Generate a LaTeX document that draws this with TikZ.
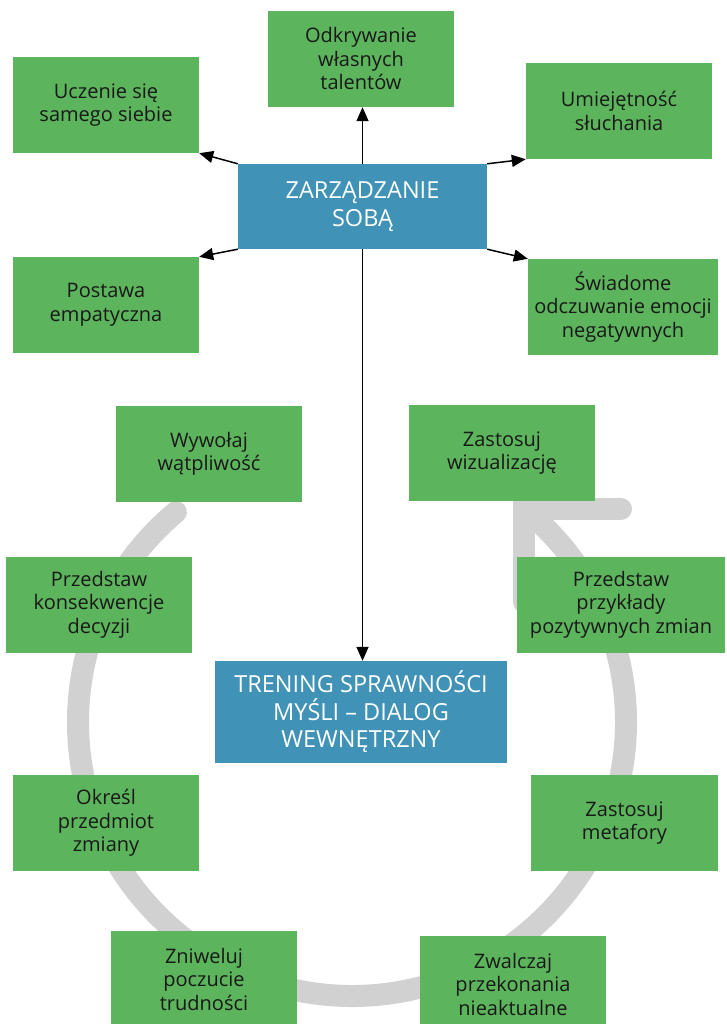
\documentclass[tikz,border=0pt]{standalone}
\usepackage{fontspec}
\setmainfont{Open Sans}
\usetikzlibrary{arrows.meta}
\definecolor{boxgreen}{RGB}{92,180,92}
\definecolor{boxblue}{RGB}{64,146,182}
\definecolor{ringgray}{RGB}{209,209,209}
\begin{document}
\begin{tikzpicture}[x=1pt,y=-1pt,
  gbox/.style={fill=boxgreen, inner sep=0pt, minimum width=186pt, minimum height=96pt,
    align=center, text=black!90, font=\fontsize{20}{23.5}\selectfont},
  bbox/.style={fill=boxblue, inner sep=0pt, align=center, text=white,
    font=\fontsize{23.5}{27.5}\selectfont},
  arr/.style={draw=black, line width=1.5pt, -{Triangle[length=14pt,width=12pt]}},
  ring/.style={draw=ringgray, line width=22pt}
]
\useasboundingbox (0,0) rectangle (726,1024);

% cycle ring with arrowhead
\draw[ring, line cap=round] (352,722) ++(-130:274) arc[start angle=-130, end angle=-409, radius=274];
\draw[ring, line cap=round, line join=miter] (621,509) -- (524,509) -- (524,602);

% top group
\node[gbox] (odk) at (361,59) {Odkrywanie\\własnych\\talentów};
\node[gbox] (ucz) at (106,105) {Uczenie się\\samego siebie};
\node[gbox] (umi) at (619,111) {Umiejętność\\słuchania};
\node[bbox, minimum width=249pt, minimum height=85pt] (zs) at (362.5,206.5) {ZARZĄDZANIE\\SOBĄ};
\node[gbox] (pos) at (106,305) {Postawa\\empatyczna};
\node[gbox, minimum width=190pt] (swi) at (623,307) {Świadome\\odczuwanie emocji\\negatywnych};

% cycle group
\node[gbox] (wyw) at (209,454) {Wywołaj\\wątpliwość};
\node[gbox] (wiz) at (502,453) {Zastosuj\\wizualizację};
\node[gbox] (kon) at (99,604.5) {Przedstaw\\konsekwencje\\decyzji};
\node[gbox, minimum width=208pt] (prz) at (621,604.5) {Przedstaw\\przykłady\\pozytywnych zmian};
\node[bbox, minimum width=292pt, minimum height=102pt] (tre) at (361,712) {TRENING SPRAWNOŚCI\\MYŚLI – DIALOG\\WEWNĘTRZNY};
\node[gbox] (okr) at (106,823) {Określ\\przedmiot\\zmiany};
\node[gbox, minimum width=187pt] (met) at (624.5,823) {Zastosuj\\metafory};
\node[gbox] (zni) at (204,979) {Zniweluj\\poczucie\\trudności};
\node[gbox] (zwa) at (513,984) {Zwalczaj\\przekonania\\nieaktualne};

% arrows
\draw[arr] (zs.north) -- (zs.north |- odk.south);
\draw[arr] (zs.south) -- (zs.south |- tre.north);
\draw[arr] (zs.north west) -- (ucz.south east);
\draw[arr] (zs.north east) -- (umi.south west);
\draw[arr] (zs.south west) -- (pos.north east);
\draw[arr] (zs.south east) -- (swi.north west);
\end{tikzpicture}
\end{document}
